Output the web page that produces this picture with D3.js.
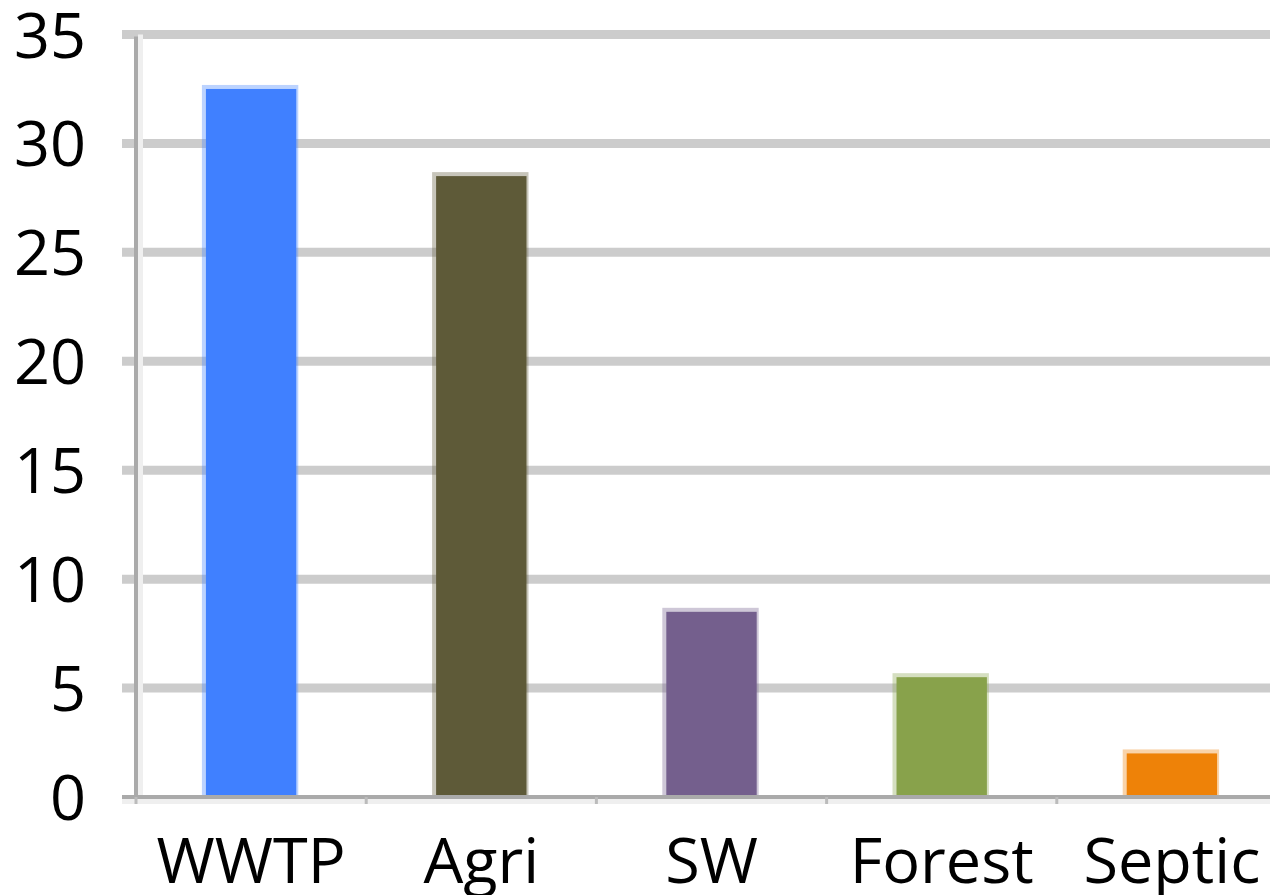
<!DOCTYPE html>
<html><head><meta charset="utf-8">
<script src="https://cdn.jsdelivr.net/npm/d3@7"></script>
<style>html,body{margin:0;padding:0;background:#fff;overflow:hidden}</style>
</head><body>
<svg id="chart" width="1270" height="895"></svg>
<script>
const categories = ["WWTP", "Agri", "SW", "Forest", "Septic"];
const values = [32.5, 28.5, 8.5, 5.5, 2.0];
const colors = ["#4080ff", "#5e5a38", "#745f8d", "#88a24b", "#ee8208"];
const yTicks = [0, 5, 10, 15, 20, 25, 30, 35];

(function () {
const svg = d3.select("#chart");
const pLeft = 136, pRight = 1287, pTop = 34.5, pBottom = 797;
const font = "'Open Sans', sans-serif";

const y = d3.scaleLinear().domain([0, 35]).range([pBottom, pTop]);
const x = d3.scaleBand().domain(categories).range([pLeft, pRight])
  .paddingInner(0.59).paddingOuter(0.295);

// gridlines
svg.append("g").selectAll("line").data(yTicks.filter(t => t > 0)).join("line")
  .attr("x1", 122).attr("x2", 1270)
  .attr("y1", d => y(d)).attr("y2", d => y(d))
  .attr("stroke", "#cccccc").attr("stroke-width", 9);

// y axis labels
svg.append("g").selectAll("text").data(yTicks).join("text")
  .attr("x", 86).attr("y", d => y(d) + 23)
  .attr("text-anchor", "end")
  .attr("font-family", font).attr("font-size", 63).attr("fill", "#000")
  .text(d => d);

// y axis line with light shadow
svg.append("rect").attr("x", 138).attr("y", pTop).attr("width", 5).attr("height", pBottom - pTop + 6).attr("fill", "#efefef");
svg.append("line").attr("x1", 136).attr("x2", 136).attr("y1", pTop + 2).attr("y2", pBottom + 2)
  .attr("stroke", "#aaaaaa").attr("stroke-width", 4);

// bars with soft halo
const bars = svg.append("g").selectAll("g").data(categories).join("g");
bars.append("rect")
  .attr("x", d => x(d) - 2).attr("y", (d, i) => y(values[i]) - 4)
  .attr("width", x.bandwidth() + 2).attr("height", (d, i) => pBottom - y(values[i]) + 4)
  .attr("fill", (d, i) => colors[i]).attr("opacity", 0.35);
bars.append("rect")
  .attr("x", d => x(d) + 2).attr("y", (d, i) => y(values[i]))
  .attr("width", x.bandwidth() - 4).attr("height", (d, i) => pBottom - y(values[i]))
  .attr("fill", (d, i) => colors[i]);

// x axis line
svg.append("rect").attr("x", 122).attr("y", pBottom + 2).attr("width", 1150).attr("height", 5).attr("fill", "#efefef");
svg.append("line").attr("x1", 122).attr("x2", 1270).attr("y1", pBottom).attr("y2", pBottom)
  .attr("stroke", "#aaaaaa").attr("stroke-width", 4);

// x tick marks at band boundaries
const bounds = categories.map(c => x(c) - x.step() * x.paddingInner() / 2);
svg.append("g").selectAll("line").data(bounds).join("line")
  .attr("x1", d => d).attr("x2", d => d).attr("y1", pBottom).attr("y2", pBottom + 7)
  .attr("stroke", "#bbbbbb").attr("stroke-width", 3);

// x labels
svg.append("g").selectAll("text").data(categories).join("text")
  .attr("x", d => x(d) + x.bandwidth() / 2).attr("y", 883)
  .attr("text-anchor", "middle")
  .attr("font-family", font).attr("font-size", 63).attr("fill", "#000")
  .text(d => d);
})();
</script>
</body></html>
